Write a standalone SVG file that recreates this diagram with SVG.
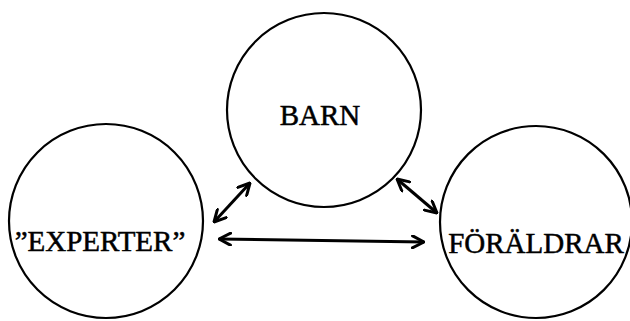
<svg xmlns="http://www.w3.org/2000/svg" width="630" height="321" viewBox="0 0 630 321">
<style>
.node circle{fill:none;stroke:#000;stroke-width:2.2}
.node text{font-family:"Liberation Serif","Times New Roman",serif;font-size:29px;fill:#000;stroke:#000;stroke-width:0.5;text-anchor:middle}
.conn line{stroke:#000;stroke-width:3;fill:none;marker-start:url(#ah);marker-end:url(#ah)}
</style>
<defs>
<marker id="ah" viewBox="0 0 14 14" refX="13" refY="7" markerWidth="14" markerHeight="14" markerUnits="userSpaceOnUse" orient="auto-start-reverse">
<path d="M1.5,1 L13,7 L1.5,13" fill="none" stroke="#000" stroke-width="3" stroke-linecap="round" stroke-linejoin="round"/>
</marker>
</defs>
<rect width="630" height="321" fill="#fff"/>
<g id="barn" class="node">
<circle cx="324" cy="110" r="97"/>
<text x="320" y="125">BARN</text>
</g>
<g id="experter" class="node">
<circle cx="106" cy="221" r="97"/>
<text x="100" y="251">”EXPERTER”</text>
</g>
<g id="foraldrar" class="node">
<circle cx="536" cy="222" r="96"/>
<text x="536" y="253">FÖRÄLDRAR</text>
</g>
<g id="connectors" class="conn">
<line x1="250" y1="183" x2="214" y2="222"/>
<line x1="397" y1="179" x2="437" y2="213"/>
<line x1="219" y1="239" x2="424" y2="242"/>
</g>
</svg>
